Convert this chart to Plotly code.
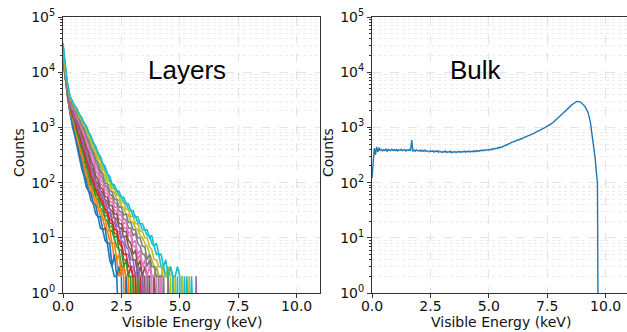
import plotly.graph_objects as go

# ---------------- data ----------------
# Layers: histogram counts per 0.1 keV bin, one list per layer (0 = empty bin)
layer_bin_width = 0.1
layer_1 = [20500, 8200, 3400, 1850, 1050, 720, 440, 310, 180, 130, 82, 70, 48, 41, 27, 24, 15, 14, 9, 8, 4, 3, 2, 2, 0]
layer_2 = [24000, 9500, 3800, 2100, 1300, 950, 600, 420, 265, 190, 118, 92, 66, 57, 41, 35, 25, 22, 15, 13, 9, 8, 4, 4, 2, 3, 2, 0, 2, 0, 0]
layer_3 = [21000, 8500, 3900, 2300, 1500, 1100, 720, 530, 340, 260, 165, 125, 86, 75, 55, 49, 35, 31, 22, 20, 14, 13, 9, 7, 6, 3, 3, 2, 0, 2, 0, 2, 0]
layer_4 = [27000, 9200, 4400, 2600, 1700, 1300, 870, 660, 440, 335, 225, 170, 112, 94, 70, 61, 46, 41, 30, 27, 19, 18, 12, 12, 8, 7, 4, 4, 2, 3, 2, 0, 2, 0, 2, 0]
layer_5 = [19000, 8000, 4700, 2550, 2000, 1400, 1100, 760, 580, 400, 310, 215, 165, 112, 93, 71, 63, 47, 43, 31, 28, 20, 19, 13, 13, 9, 8, 5, 5, 3, 3, 2, 2, 0, 2, 0, 0] + [0] * 20 + [2, 0]
layer_6 = [24000, 9300, 4700, 2900, 2100, 1700, 1200, 970, 680, 530, 370, 295, 200, 162, 110, 95, 72, 66, 49, 46, 33, 31, 23, 22, 15, 15, 10, 11, 7, 6, 4, 4, 2, 3, 2, 2, 0, 2, 0, 2, 0]
layer_7 = [30000, 10500, 4800, 3000, 2250, 1900, 1380, 1160, 840, 690, 480, 400, 280, 232, 165, 136, 95, 88, 66, 62, 46, 43, 32, 30, 22, 21, 15, 15, 11, 11, 7, 7, 4, 5, 3, 3, 2, 2, 2, 0, 2, 0, 2, 0]
layer_8 = [21000, 9800, 5000, 3300, 2450, 2100, 1550, 1350, 1000, 850, 620, 520, 380, 315, 230, 190, 140, 117, 88, 81, 62, 57, 44, 41, 31, 29, 22, 21, 15, 15, 11, 12, 8, 7, 5, 5, 3, 4, 2, 2, 3, 2, 0, 2, 0, 2, 0]
layer_9 = [26000, 9600, 5700, 3200, 2800, 2150, 1900, 1450, 1280, 960, 820, 610, 520, 385, 325, 240, 205, 150, 130, 96, 89, 70, 66, 51, 48, 37, 35, 27, 26, 20, 19, 15, 14, 11, 10, 8, 7, 5, 4, 3, 3, 2, 2, 3, 2, 2, 0, 2, 0] + [0] * 5 + [2, 0]
layer_10 = [34000, 11500, 5800, 3600, 2900, 2500, 2000, 1760, 1400, 1230, 980, 820, 630, 530, 405, 345, 260, 222, 168, 143, 108, 96, 78, 73, 58, 56, 44, 42, 33, 32, 25, 24, 19, 18, 14, 14, 11, 11, 8, 7, 5, 5, 3, 3, 2, 2, 3, 2, 0, 2, 0, 2, 0, 2, 0, 0]
layer_11 = [16500, 7200, 3700, 1800, 1280, 770, 560, 330, 245, 140, 108, 70, 64, 42, 39, 24, 24, 14, 15, 8, 8, 3, 5, 2, 3, 2, 0, 2, 0]
layer_12 = [23000, 8000, 4200, 2000, 1500, 960, 700, 450, 330, 205, 155, 95, 84, 58, 54, 36, 35, 22, 22, 13, 14, 8, 8, 4, 5, 2, 3, 2, 2, 0, 2, 0]
layer_13 = [19500, 8800, 4000, 2400, 1600, 1230, 800, 620, 400, 305, 195, 150, 95, 86, 61, 57, 40, 38, 25, 25, 16, 16, 10, 11, 6, 6, 3, 4, 2, 2, 2, 0, 2, 0]
layer_14 = [24500, 9400, 4200, 2500, 1700, 1400, 950, 760, 490, 390, 255, 205, 130, 106, 76, 70, 50, 47, 33, 31, 21, 21, 14, 14, 9, 8, 5, 5, 3, 3, 2, 2, 0, 2, 0]
layer_15 = [18500, 7700, 4600, 2400, 2000, 1420, 1190, 820, 660, 440, 355, 240, 195, 128, 106, 78, 72, 52, 49, 35, 34, 23, 23, 16, 16, 10, 11, 7, 6, 4, 4, 2, 3, 2, 2, 0, 2, 0]
layer_16 = [21500, 9300, 4500, 2800, 2100, 1760, 1290, 1090, 760, 620, 430, 350, 240, 196, 134, 112, 82, 76, 56, 54, 39, 38, 27, 27, 18, 18, 13, 13, 9, 8, 5, 6, 3, 4, 2, 3, 2, 2, 0, 2, 0]
layer_17 = [27000, 9800, 4800, 3000, 2200, 1930, 1420, 1250, 900, 770, 540, 460, 320, 280, 195, 165, 115, 100, 76, 72, 52, 51, 36, 36, 26, 26, 18, 19, 12, 13, 8, 9, 5, 6, 3, 4, 2, 3, 2, 2, 2, 0, 2, 0]
layer_18 = [19500, 9400, 4900, 3200, 2450, 2150, 1650, 1450, 1080, 950, 680, 590, 420, 370, 260, 228, 160, 142, 98, 94, 70, 68, 50, 49, 36, 36, 26, 27, 19, 19, 14, 14, 10, 10, 7, 7, 4, 5, 3, 3, 2, 2, 2, 2, 0, 2, 0]
layer_19 = [29000, 9700, 5900, 3300, 2900, 2250, 2000, 1530, 1390, 1050, 930, 680, 600, 430, 380, 280, 245, 178, 156, 112, 102, 80, 76, 60, 57, 44, 43, 33, 32, 24, 24, 18, 18, 13, 13, 10, 10, 7, 6, 4, 4, 3, 3, 2, 2, 3, 2, 0, 2, 0, 0, 2, 0]
layer_20 = [31000, 11800, 6000, 3700, 3100, 2450, 2200, 1700, 1530, 1190, 1080, 810, 700, 525, 460, 345, 300, 222, 198, 145, 130, 94, 91, 71, 70, 54, 54, 42, 41, 31, 31, 24, 24, 18, 18, 14, 14, 10, 11, 7, 8, 5, 5, 3, 4, 2, 3, 2, 2, 3, 2, 0, 2, 0, 0, 2, 0]
layer_series = [layer_1, layer_2, layer_3, layer_4, layer_5, layer_6, layer_7, layer_8, layer_9, layer_10,
                layer_11, layer_12, layer_13, layer_14, layer_15, layer_16, layer_17, layer_18, layer_19, layer_20]

# Bulk: histogram counts per 0.05 keV bin
bulk_bin_width = 0.05
bulk_counts = [
    120, 285, 420, 320, 445, 360, 430, 385, 400, 375, 395, 380, 405, 372, 398, 388, 378, 402, 384, 396,
    380, 398, 374, 392, 386, 401, 377, 389, 395, 372, 393, 384, 398, 379, 590, 375, 388, 369, 392, 381,
    374, 386, 368, 382, 371, 389, 365, 378, 372, 360, 380, 366, 375, 358, 372, 364, 377, 355, 369, 361,
    352, 368, 357, 372, 350, 363, 356, 370, 348, 362, 355, 366, 351, 364, 357, 368, 353, 366, 359, 371,
    356, 369, 360, 373, 358, 371, 364, 376, 362, 378, 368, 381, 372, 385, 377, 389, 380, 394, 385, 392,
    398, 390, 404, 396, 412, 405, 420, 413, 432, 426, 441, 436, 455, 462, 470, 478, 492, 501, 512, 528,
    536, 548, 556, 569, 575, 590, 598, 612, 622, 638, 650, 662, 676, 688, 702, 726, 732, 752, 768, 790,
    815, 832, 856, 874, 898, 918, 940, 968, 992, 1020, 1045, 1080, 1112, 1150, 1185, 1230, 1280, 1330, 1390, 1450,
    1510, 1590, 1670, 1760, 1850, 1950, 2050, 2160, 2260, 2360, 2450, 2560, 2660, 2760, 2850, 2920, 2960, 2950, 2900, 2830,
    2720, 2600, 2430, 2250, 2060, 1850, 1520, 1220, 840, 600, 450, 280, 160, 100, 0,
]

x_tick_vals = [0, 2.5, 5, 7.5, 10]
x_tick_text = ["0.0", "2.5", "5.0", "7.5", "10.0"]
y_decades = [0, 1, 2, 3, 4, 5]

TAB10 = ["#1f77b4", "#ff7f0e", "#2ca02c", "#d62728", "#9467bd",
         "#8c564b", "#e377c2", "#7f7f7f", "#bcbd22", "#17becf"]

# empty bins are drawn at a floor below the axis (like matplotlib's log clipping)
ZERO_FLOOR = 1e-3

# ---------------- figure ----------------
W, H = 627, 332
fig = go.Figure()

n_layer_bins = max(len(s) for s in layer_series)
layer_energy = [round(i * layer_bin_width, 3) for i in range(n_layer_bins)]
for i, s in enumerate(layer_series):
    padded = s + [0] * (n_layer_bins - len(s))
    fig.add_trace(go.Scatter(
        x=layer_energy, y=[v if v > 0 else ZERO_FLOOR for v in padded],
        mode="lines", line=dict(color=TAB10[i % 10], width=1.6),
        xaxis="x", yaxis="y", showlegend=False, hoverinfo="skip"))

bulk_energy = [round(i * bulk_bin_width, 3) for i in range(len(bulk_counts))]
fig.add_trace(go.Scatter(
    x=bulk_energy, y=[v if v > 0 else ZERO_FLOOR for v in bulk_counts],
    mode="lines", line=dict(color=TAB10[0], width=1.4),
    xaxis="x2", yaxis="y2", showlegend=False, hoverinfo="skip"))

# pixel geometry
left_x0, left_x1 = 63, 320
right_x0 = 372
plot_top, plot_bot = 17, 293
px_per_kev = (left_x1 - left_x0) / 11.0

tick_font = dict(family="DejaVu Sans", size=14, color="#111111")
axis_color = "#333333"
grid_major = "#e3e3e3"
grid_minor = "#ececec"

minor_vals = [m * 10 ** d for d in y_decades[:-1] for m in range(2, 10)]

def xaxis_common(domain, rng, anchor):
    return dict(domain=domain, range=rng, anchor=anchor,
                tickvals=x_tick_vals, ticktext=x_tick_text,
                ticks="outside", ticklen=4, tickcolor=axis_color, tickwidth=1,
                ticklabelstandoff=-4,
                showline=True, linecolor=axis_color, linewidth=1, mirror=True,
                showgrid=True, gridcolor=grid_major, griddash="dash", gridwidth=1,
                zeroline=False, tickfont=tick_font, automargin=False)

def yaxis_common(anchor, mirror):
    return dict(type="log", domain=[1 - plot_bot / H, 1 - plot_top / H], range=[0, 5],
                anchor=anchor,
                tickvals=[10 ** d for d in y_decades],
                ticktext=[f"10<sup>{d}</sup>" for d in y_decades],
                ticks="outside", ticklen=4, tickcolor=axis_color, tickwidth=1,
                showline=True, linecolor=axis_color, linewidth=1, mirror=mirror,
                showgrid=True, gridcolor=grid_major, griddash="dash", gridwidth=1,
                minor=dict(tickvals=minor_vals, ticks="outside", ticklen=2,
                           tickcolor=axis_color, showgrid=True,
                           gridcolor=grid_minor, griddash="dot", gridwidth=1),
                zeroline=False, tickfont=tick_font, automargin=False)

right_range_max = (W - right_x0) / px_per_kev

fig.update_layout(
    width=W, height=H,
    margin=dict(l=0, r=0, t=0, b=0),
    paper_bgcolor="white", plot_bgcolor="white",
    xaxis=xaxis_common([left_x0 / W, left_x1 / W], [0, 11.0], "y"),
    yaxis=yaxis_common("x", True),
    xaxis2=xaxis_common([right_x0 / W, 1.0], [0, right_range_max], "y2"),
    yaxis2=yaxis_common("x2", False),
)

label_font = dict(family="DejaVu Sans", size=14, color="#111111")
title_font = dict(family="Liberation Sans", size=26, color="black")
ann = [
    dict(text="Layers", x=187 / W, y=1 - 70 / H, font=title_font),
    dict(text="Bulk", x=476 / W, y=1 - 70 / H, font=title_font),
    dict(text="Counts", x=19 / W, y=1 - 153 / H, font=label_font, textangle=-90),
    dict(text="Counts", x=328 / W, y=1 - 153 / H, font=label_font, textangle=-90),
    dict(text="Visible Energy (keV)", x=191.5 / W, y=1 - 322 / H, font=label_font),
    dict(text="Visible Energy (keV)", x=501 / W, y=1 - 322 / H, font=label_font),
]
for a in ann:
    a.update(xref="paper", yref="paper", showarrow=False, xanchor="center", yanchor="middle")
fig.update_layout(annotations=ann)

fig.write_html("out.html", config={"displayModeBar": False},
               post_script="document.body.style.margin='0px';document.body.style.overflow='hidden';")
